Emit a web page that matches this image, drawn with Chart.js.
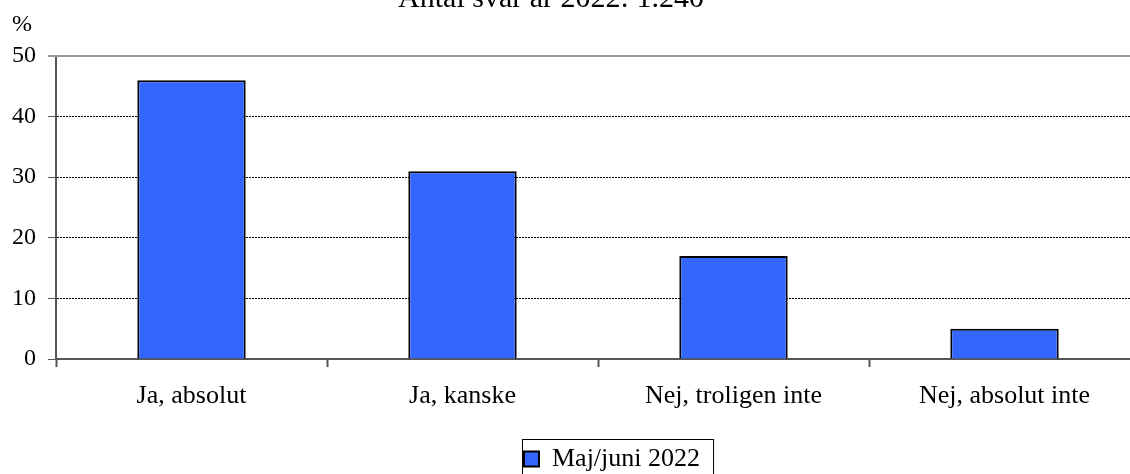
<!DOCTYPE html>
<html>
<head>
<meta charset="utf-8">
<script src="https://cdn.jsdelivr.net/npm/chart.js@4.4.0/dist/chart.umd.min.js"></script>
<style>
    html, body { margin: 0; padding: 0; background: #fff; overflow: hidden; }
    #wrap { width: 1130px; height: 474px; overflow: hidden; }
</style>
</head>
<body>
<div id="wrap"><canvas id="grafico" width="1141" height="474"></canvas></div>
<script>
// data som läses av bilden
const kategorier = ['Ja, absolut', 'Ja, kanske', 'Nej, troligen inte', 'Nej, absolut inte'];
const andelar = [46, 31, 17, 5];
const serieNamn = 'Maj/juni 2022';
const yMin = 0;
const yMax = 50;
const ySteg = 10;
const titel = 'Antal svar år 2022: 1.240';
const enhet = '%';

const serif = 'Liberation Serif, Times New Roman, serif';

// ritar titel, enhet, övre linjen och ramen runt förklaringen
const extraPlugin = {
    id: 'extra',
    afterLayout(chart) {
        // flytta förklaringen lite åt höger och nedåt
        const lg = chart.legend;
        lg.left += 42; lg.right += 42;
        lg.top += 8; lg.bottom += 8;
    },
    afterDraw(chart) {
        const ctx = chart.ctx;
        const y = chart.scales.y;
        const area = chart.chartArea;
        ctx.save();
        // grå linje överst
        const yTop = y.getPixelForValue(yMax);
        ctx.strokeStyle = '#999';
        ctx.lineWidth = 2;
        ctx.beginPath();
        ctx.moveTo(area.left - 8, yTop);
        ctx.lineTo(area.right, yTop);
        ctx.stroke();

        ctx.fillStyle = '#000';
        ctx.font = '30px ' + serif;
        ctx.textAlign = 'center';
        ctx.textBaseline = 'alphabetic';
        ctx.fillText(titel, 551, 7);

        ctx.font = '24px ' + serif;
        ctx.textAlign = 'left';
        ctx.fillText(enhet, 12, 31);

        // ram runt förklaringen
        const box = chart.legend.legendHitBoxes[0];
        if (box) {
            ctx.strokeStyle = '#000';
            ctx.lineWidth = 1;
            ctx.strokeRect(Math.round(box.left) - 1.5, 439.5, box.width + 15, 60);
        }
        ctx.restore();
    }
};

new Chart(document.getElementById('grafico'), {
    type: 'bar',
    data: {
        labels: kategorier,
        datasets: [{
            label: serieNamn,
            data: andelar,
            backgroundColor: '#3366FF',
            borderColor: '#000',
            borderWidth: 2,
            barPercentage: 0.4,
            categoryPercentage: 1
        }]
    },
    options: {
        responsive: false,
        animation: false,
        devicePixelRatio: 1,
        layout: { padding: { top: 56, right: 1, left: 0, bottom: 0 } },
        plugins: {
            legend: {
                position: 'bottom',
                labels: {
                    color: '#000',
                    font: { family: serif, size: 26 },
                    boxWidth: 15,
                    boxHeight: 15,
                    padding: 8
                }
            },
            title: { display: false },
            tooltip: { enabled: false }
        },
        scales: {
            x: {
                grid: {
                    drawOnChartArea: false,
                    offset: true,
                    tickLength: 8,
                    tickColor: '#555',
                    tickWidth: 2
                },
                border: { color: '#555', width: 2 },
                ticks: {
                    color: '#000',
                    font: { family: serif, size: 26 },
                    maxRotation: 0,
                    autoSkip: false,
                    padding: 14
                },
                afterFit(scale) { scale.height = 71; }
            },
            y: {
                min: yMin,
                max: yMax,
                grid: {
                    color: '#000',
                    lineWidth: 1,
                    tickLength: 8,
                    tickColor: '#555',
                    tickWidth: 1
                },
                border: { color: '#555', width: 2, dash: [2, 1] },
                ticks: {
                    stepSize: ySteg,
                    color: '#000',
                    font: { family: serif, size: 24 },
                    padding: 12
                },
                afterFit(scale) { scale.width = 56; }
            }
        }
    },
    plugins: [extraPlugin]
});
</script>
</body>
</html>
